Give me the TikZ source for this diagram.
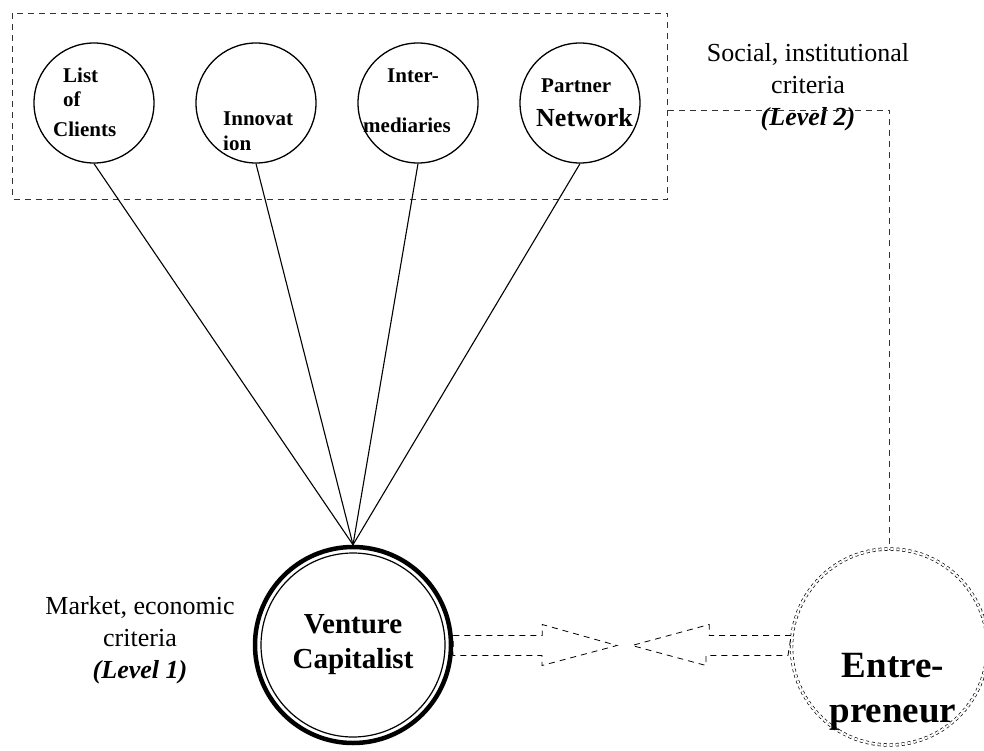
\documentclass[tikz,border=0pt]{standalone}
\usepackage{fontspec}
\setmainfont{Liberation Serif}
\usetikzlibrary{calc}

\tikzset{
  crit/.style={circle, draw, line width=1.3pt, minimum size=120pt, inner sep=0pt},
  dashline/.style={draw=black!80, line width=0.9pt, dash pattern=on 6pt off 5pt},
  big/.style={font=\fontsize{26}{32}\selectfont, align=center},
  small/.style={font=\bfseries\fontsize{21}{24}\selectfont, inner sep=0pt, anchor=base west}
}

\begin{document}
\begin{tikzpicture}[x=1pt,y=-1pt]
\useasboundingbox (0,0) rectangle (984,751);

% level 2 criteria
\node[crit] (L) at (94,103) {};
\node[crit] (I) at (256,103) {};
\node[crit] (M) at (418,103) {};
\node[crit] (P) at (580,103) {};

\node[small] (L1) at (63,83) {List};
\node[small] (L2) at (63,107) {of};
\node[small] (L3) at (53,137) {Clients};
\node[small] (I1) at (223,126) {Innovat};
\node[small] (I2) at (223,151) {ion};
\node[small] (M1) at (387,83) {Inter-};
\node[small] (M2) at (363,133) {mediaries};
\node[small] (P1) at (541,93) {Partner};
\node[small, font=\bfseries\fontsize{26}{30}\selectfont] (P2) at (536,127) {Network};

\draw[dashline] (12.5,13.5) rectangle (667.5,199.5);
\coordinate (box) at (667.5,110.5);

% the two actors
\node[circle, draw, line width=4.5pt, minimum size=196pt, inner sep=0pt,
      font=\bfseries\fontsize{29}{35}\selectfont, align=center] (VC) at (353,645) {Venture\\Capitalist};
\draw[line width=1.2pt] (VC.center) circle (92);

\node[circle, draw, dashed, double, double distance=2pt, line width=0.7pt,
      minimum size=196pt] (E) at (889.5,647) {};
\node[font=\bfseries\fontsize{37}{45}\selectfont, align=center] (Et) at (893,692) {Entre-\\preneur};

\node[big] (S) at (808,87) {Social, institutional\\criteria\\\textbf{\textit{(Level 2)}}};
\node[big] (Mk) at (140,640) {Market, economic\\criteria\\\textbf{\textit{(Level 1)}}};

\draw[line width=1.1pt] (L.south) -- (VC.north);
\draw[line width=1.1pt] (I.south) -- (VC.north);
\draw[line width=1.1pt] (M.south) -- (VC.north);
\draw[line width=1.1pt] (P.south) -- (VC.north);

\draw[dashline] (box) -| (E.north);

% block arrows meeting in the middle
\coordinate (tipL) at (617,645.5);
\coordinate (tipR) at (632,645.5);
\draw[dashline, draw=black, line width=0.8pt] ($(VC.east)+(0,-9.5)$) -- ++(89,0) -- ++(0,-11)
  -- (tipL) -- ++(-75,20) -- ++(0,-10) -- ++(-89,0) -- cycle;
\draw[dashline, draw=black, line width=0.8pt] ($(E.west)+(0,-11.5)$) -- ++(-82,0) -- ++(0,-11)
  -- (tipR) -- ++(74,20) -- ++(0,-10) -- ++(82,0) -- cycle;
\end{tikzpicture}
\end{document}
